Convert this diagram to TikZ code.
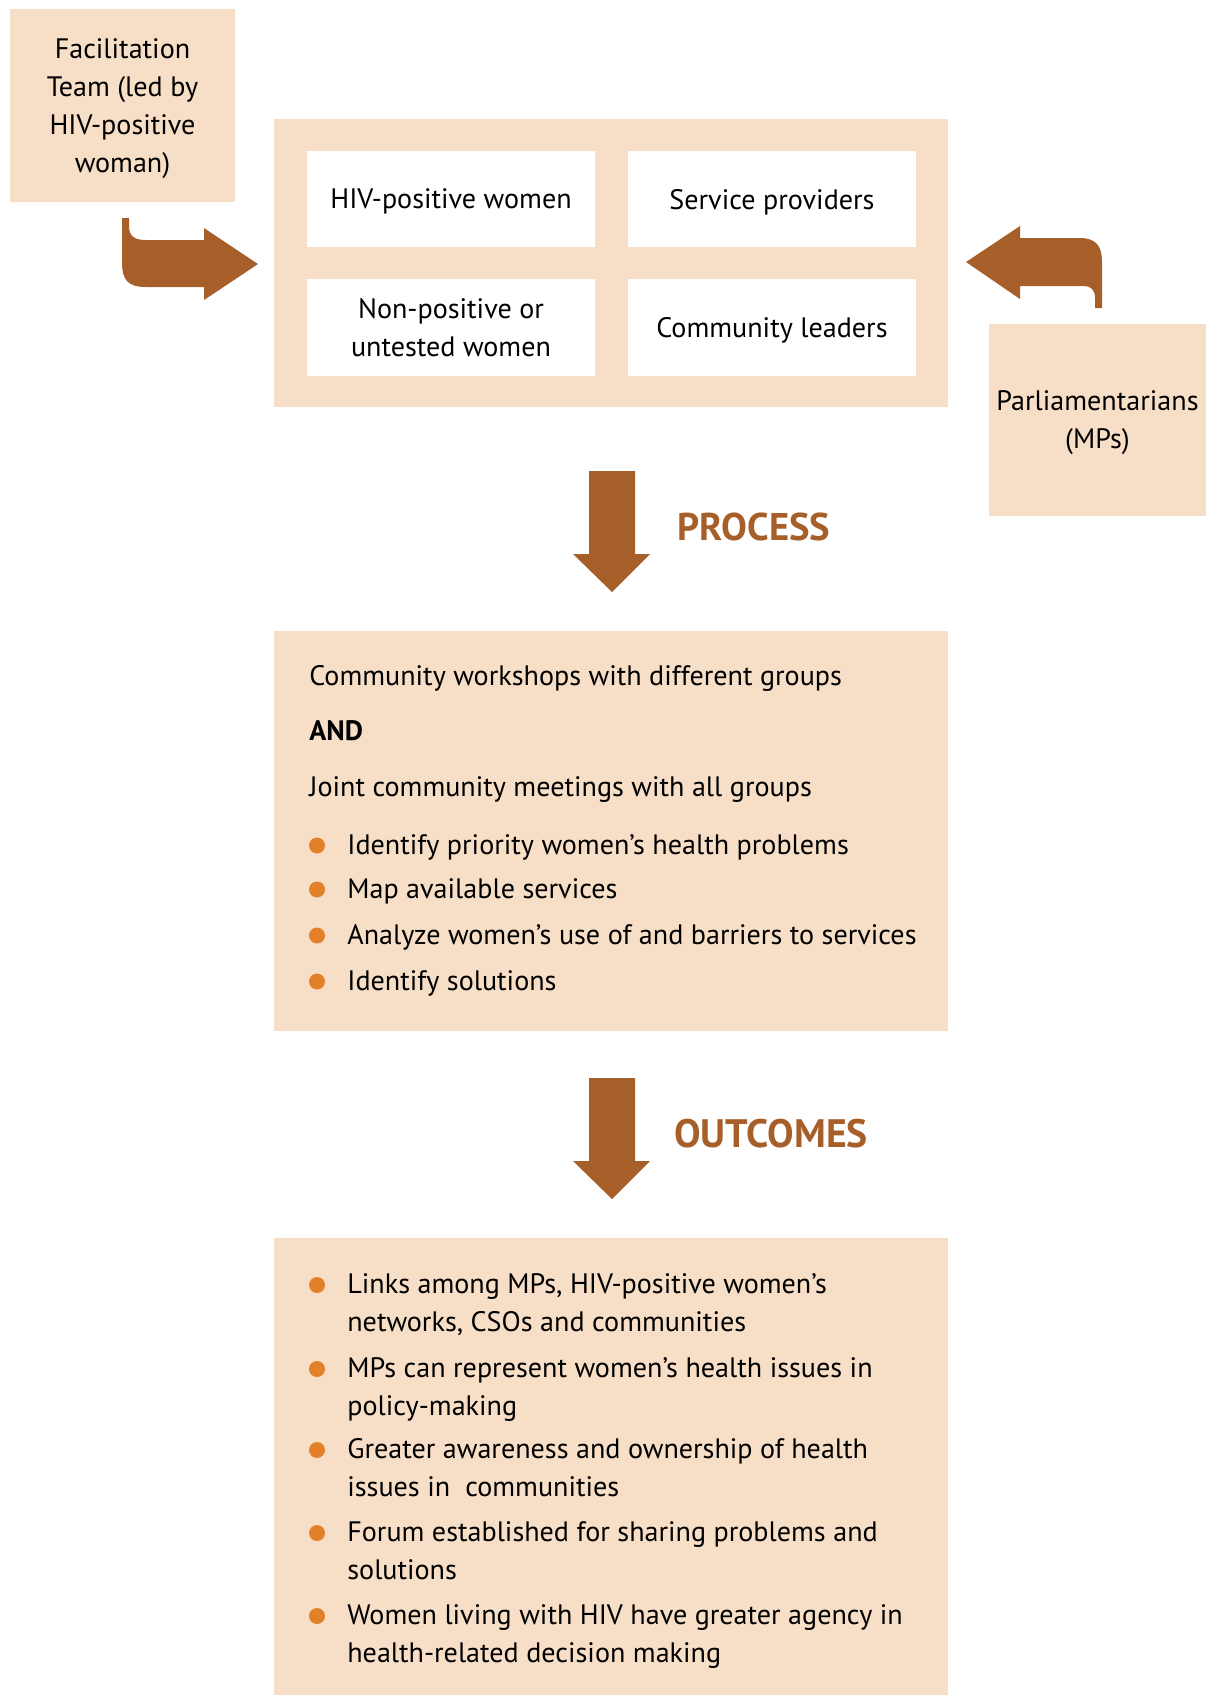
\documentclass[tikz,border=0pt]{standalone}
\usepackage{fontspec}
\setmainfont{PT Sans}
\usetikzlibrary{positioning}

\definecolor{peach}{HTML}{F7DEC6}
\definecolor{rust}{HTML}{A65F29}
\definecolor{dot}{HTML}{E3812B}

\begin{document}
\begin{tikzpicture}[
    x=0.02cm, y=-0.02cm,
    body/.style={inner sep=0pt, font=\fontsize{16}{21.6}\selectfont},
    panel/.style={fill=peach, inner sep=0pt},
    member/.style={fill=white, inner sep=0pt, minimum width=5.76cm, minimum height=1.94cm,
                   align=center, text depth=0pt, font=\fontsize{16}{21.6}\selectfont},
    stage/.style={inner sep=0pt, anchor=base west, text=rust, font=\fontsize{22}{26}\selectfont\bfseries},
    bullet/.style={fill=dot},
    blockarrow/.style={fill=rust},
]
\useasboundingbox (0,0) rectangle (1206,1695);

% Actors
\node[panel, minimum width=4.5cm, minimum height=3.86cm, align=center, text depth=0pt, body] (facil) at (122.5,105.5)
    {Facilitation\\Team (led by\\HIV-positive\\woman)};
\node[panel, minimum width=4.34cm, minimum height=3.84cm, align=center, text depth=0pt, body] (parl) at (1097.5,420)
    {Parliamentarians\\(MPs)};

% Groups taking part
\node[panel, minimum width=13.48cm, minimum height=5.76cm] (group) at (611,263) {};
\node[member] (hivpos) at (451,199) {HIV-positive women};
\node[member] (provider) at (772,199) {Service providers};
\node[member] (nonpos) at (451,327.5) {Non-positive or\\untested women};
\node[member] (leaders) at (772,327.5) {Community leaders};

% Bent arrows into the groups
\fill[blockarrow] (129,218) -- (122,218) -- (122,262) .. controls (122,280) and (128,287) .. (146,287)
    -- (204,287) -- (204,300) -- (258,264) -- (204,228) -- (204,240) -- (146,240)
    .. controls (134,240) and (129,236) .. (129,226) -- cycle;
\fill[blockarrow] (1102,308) -- (1102,262) .. controls (1102,246) and (1096,238) .. (1080,238)
    -- (1020,238) -- (1020,226) -- (966,262) -- (1020,299) -- (1020,286) -- (1084,286)
    .. controls (1091,286) and (1095,290) .. (1095,298) -- (1095,308) -- cycle;

% Process
\fill[blockarrow] (589,471) -- (635,471) -- (635,554) -- (650,554) -- (612,592) -- (573,554) -- (589,554) -- cycle;
\node[stage] (proclabel) at (677,540) {PROCESS};

\node[panel, minimum width=13.48cm, minimum height=8cm] (process) at (611,831) {};
\node[body, anchor=base west] (work) at (309,685) {Community workshops with different groups};
\node[body, anchor=base west, font=\fontsize{16}{21.6}\selectfont\bfseries] (and) at (309,740) {AND};
\node[body, anchor=base west] (joint) at (309,796) {Joint community meetings with all groups};
\foreach \y/\txt [count=\i] in {854/Identify priority women's health problems,
                               898/Map available services,
                               944/Analyze women's use of and barriers to services,
                               990/Identify solutions} {
    \fill[bullet] (317,\y-8.5) circle (0.16cm);
    \node[body, anchor=base west] (step\i) at (347,\y) {\txt};
}

% Outcomes
\fill[blockarrow] (589,1078) -- (635,1078) -- (635,1161) -- (650,1161) -- (612,1199) -- (573,1161) -- (589,1161) -- cycle;
\node[stage, font=\fontsize{22.6}{26}\selectfont\bfseries] (outlabel) at (674,1147) {OUTCOMES};

\node[panel, minimum width=13.48cm, minimum height=9.14cm] (outcomes) at (611,1466.5) {};
\foreach \y/\one/\two [count=\i] in {
        1293/{Links among MPs, HIV-positive women's}/{networks, CSOs and communities},
        1377/MPs can represent women's health issues in/policy-making,
        1458/Greater awareness and ownership of health/issues in~ communities,
        1541/Forum established for sharing problems and/solutions,
        1624/Women living with HIV have greater agency in/health-related decision making} {
    \fill[bullet] (317,\y-8) circle (0.16cm);
    \node[body, anchor=base west] (outA\i) at (347,\y) {\one};
    \node[body, anchor=base west] (outB\i) at (347,\y+38) {\two};
}

\end{tikzpicture}
\end{document}
